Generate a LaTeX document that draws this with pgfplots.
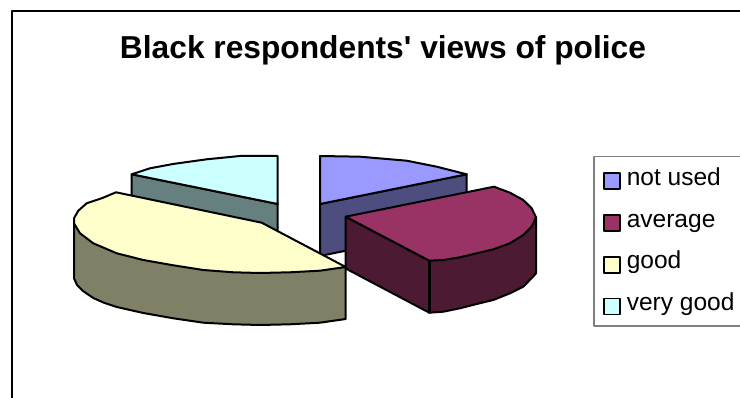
\documentclass[border=0pt]{standalone}
\usepackage{pgfplots}
\pgfplotsset{compat=1.18}
\usepackage{fontspec}
\setmainfont[Ligatures=TeXOff]{Liberation Sans}
\definecolor{notusedTop}{HTML}{9999FF}
\definecolor{notusedSide}{HTML}{4D4D80}
\definecolor{averageTop}{HTML}{993366}
\definecolor{averageSide}{HTML}{4D1A33}
\definecolor{goodTop}{HTML}{FFFFCC}
\definecolor{goodSide}{HTML}{808066}
\definecolor{verygoodTop}{HTML}{CCFFFF}
\definecolor{verygoodSide}{HTML}{668080}
\begin{document}
\begin{tikzpicture}
\begin{axis}[
  scale only axis, width=555pt, height=298.5pt,
  xmin=0, xmax=740, ymin=0, ymax=398, y dir=reverse,
  hide axis, clip=true,
  every axis plot/.append style={line join=round, line width=1.5pt, draw=black},
]
% chart frame, running off the right and lower edges
\addplot[draw=black, line width=1.6pt] coordinates {(12,420) (12,11) (760,11)};

% very good: wedge at upper left
\addplot[fill=verygoodSide] coordinates {(131.7,174.3) (277.7,204) (277.7,232) (131.7,226)} -- cycle;
\addplot[fill=verygoodTop] coordinates {(277.7,204) (277.7,156) (240,156) (206.7,159.3) (173,164) (150,168.3) (131.7,174.3)} -- cycle;

% not used: wedge at upper right
\addplot[fill=notusedSide] coordinates {(320,204) (466.7,174.3) (466.7,226) (320,256)} -- cycle;
\addplot[fill=notusedTop] coordinates {(320,204) (320,156) (360,156.7) (406.7,160.7) (436.7,166.7) (466.7,174.3)} -- cycle;

% good: rim, then top face
\addplot[fill=goodSide] coordinates {(345.7,267) (345.7,319) (320,322.7) (290,324.3) (260,325) (233.3,324.3) (203.3,322.7) (173.3,318.3) (143.3,313) (116.7,307) (103.3,302.5) (93.3,298) (83,291) (77,285) (74,278.3) (74,223.3)} -- cycle;
\addplot[fill=goodTop] coordinates {(116,192.3) (261.7,222.7) (345.7,267) (320,270.7) (290,272.3) (260,273) (233.3,272.3) (203.3,270) (173.3,265.3) (143.3,260) (116.7,253.3) (93.3,243.3) (80,233.3) (74,223.3) (74,218.3) (78.3,210.7) (86.7,203.3) (101.7,198.3)} -- cycle;

% average: cut face, rim, top face
\addplot[fill=averageSide] coordinates {(345.7,216.7) (429.3,260.7) (429.3,312.7) (345.7,268.5)} -- cycle;
\addplot[fill=averageSide] coordinates {(429.3,260.7) (429.3,312.7) (443.3,311.7) (460,308.3) (476.7,304) (493.3,300) (510,293.3) (523.3,286.7) (533,276.7) (536,273.3) (536,217.3)} -- cycle;
\addplot[fill=averageTop] coordinates {(345.7,216.7) (494,186.7) (510,192.7) (523.3,200) (531.7,208.3) (536,217.3) (531.7,226.7) (523.3,235) (510,243.3) (493.3,249.3) (476.7,253.3) (460,257.3) (443.3,260) (429.3,260.7)} -- cycle;
\addplot[draw=black, line width=2.4pt] coordinates {(429.3,260.7) (429.3,312.7)};

% legend box and swatches
\addplot[draw=black!50, line width=1.1pt, fill=white] coordinates {(594,156.7) (760,156.7) (760,326) (594,326)} -- cycle;
\addplot[fill=notusedTop, line width=1.2pt] coordinates {(604,173) (620,173) (620,189) (604,189)} -- cycle;
\addplot[fill=averageTop, line width=1.2pt] coordinates {(604,215) (620,215) (620,231) (604,231)} -- cycle;
\addplot[fill=goodTop, line width=1.2pt] coordinates {(604,257) (620,257) (620,273) (604,273)} -- cycle;
\addplot[fill=verygoodTop, line width=1.2pt] coordinates {(604,298.5) (620,298.5) (620,314.5) (604,314.5)} -- cycle;

\def\lab#1#2{\node[anchor=base west, inner sep=0pt, font=\fontsize{18.4pt}{20pt}\selectfont] at (axis cs:626.5,#1) {#2};}
\lab{185.7}{not used}
\lab{227.3}{average}
\lab{269}{good}
\lab{311}{very good}

\node[anchor=base, inner sep=0pt, font=\fontsize{23.8pt}{26pt}\selectfont\bfseries] at (axis cs:383,58.3) {Black respondents' views of police};
\end{axis}
% page extent
\path (0,0) rectangle (555pt,298.5pt);
\end{tikzpicture}
\end{document}
